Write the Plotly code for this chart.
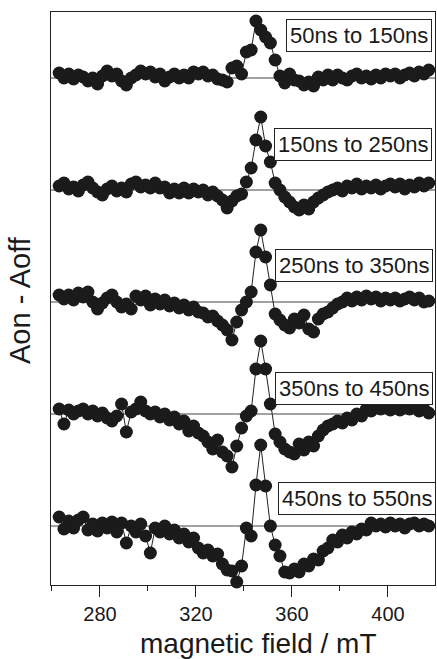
import plotly.graph_objects as go

# magnetic field grid (mT)
field = list(range(263, 419, 2))

labels = ["50ns to 150ns", "150ns to 250ns", "250ns to 350ns",
          "350ns to 450ns", "450ns to 550ns"]

s1 = [5, 0, 4, -1, 3, 1, -3, 0, -6, 2,
      7, 2, 4, -3, -7, 0, 3, 7, 4, 6,
      1, 4, -3, 1, 4, 0, 3, 0, 6, 4,
      6, 2, 3, -1, -2, -4, 10, 12, 4, 26,
      28, 57, 48, 41, 35, 18, 2, -5, 4, -2,
      -3, -7, -4, -8, 1, -2, 3, -2, 3, 0,
      -2, 2, 4, 0, 2, -1, 3, 0, 4, 2,
      4, 0, 3, 5, 2, 6, 4, 8]
s2 = [4, 7, 1, 3, -1, 5, 8, 2, -2, -5,
      1, 4, -1, 2, -2, 6, 8, 3, 5, 2,
      7, 2, 3, -3, 1, -3, 2, -3, 1, -2,
      0, -5, -2, -6, -10, -18, -11, -6, -4, 8,
      22, 50, 73, 44, 28, 7, 0, -7, -12, -17,
      -20, -15, -19, -12, -8, -5, -2, 0, 2, -1,
      4, 2, 6, 1, 4, 2, 5, 1, 4, 6,
      3, 6, 1, 5, 3, 7, 4, 7]
s3 = [7, 3, 7, 2, 9, 5, 10, 0, -7, -1,
      4, 7, 0, -5, -2, -7, 6, 2, 6, -3,
      3, -2, 2, -4, -1, -6, -3, -8, -5, -10,
      -11, -15, -14, -19, -23, -28, -38, -20, -8, 0,
      10, 50, 72, 45, 17, -12, -18, -23, -26, -17,
      -21, -13, -27, -30, -17, -12, -10, -6, -2, 0,
      4, 1, 5, 2, 6, 3, 5, 1, 4, 2,
      4, 1, 3, 5, 2, 4, 0, 1]
s4 = [5, -10, 4, 0, 3, 5, 0, 3, -2, 1,
      -4, -7, -2, 10, -18, 2, 5, 12, 3, 0,
      2, -3, 0, -6, -3, -10, -7, -17, -12, -19,
      -22, -28, -35, -26, -38, -42, -53, -32, -14, -2,
      3, 45, 73, 45, 10, -20, -28, -35, -38, -40,
      -30, -36, -28, -32, -22, -16, -12, -10, -7, -9,
      -4, -6, 0, -2, 5, 3, 8, 5, 8, 4,
      7, 4, 8, 5, 7, 3, 5, 1]
s5 = [9, -3, 5, -2, 6, 9, -4, 2, -5, 3,
      -2, 4, -6, 3, -17, 0, -6, 2, -10, -27,
      -2, -6, 0, -8, -4, -12, -8, -16, -12, -22,
      -27, -24, -30, -28, -38, -44, -45, -56, -40, -2,
      -10, 41, 81, 40, 0, -19, -30, -46, -47, -43,
      -46, -38, -40, -33, -34, -25, -22, -14, -16, -9,
      -12, -6, -8, -3, -4, 3, 0, 2, -1, 3,
      0, 2, -2, 2, 3, 0, 2, 0]
series = [s1, s2, s3, s4, s5]

# layout-only: vertical stacking offsets and label box placement
offsets = [448, 336, 224, 112, 0]
label_dy = [43, 45.5, 36.5, 26, 27.5]
label_right_px = [432, 432, 433, 433, 436]

L, R, T, B = 51, 2, 12, 74
W, H = 437, 659
pw = W - L - R
FONT = "Liberation Sans, Arial"

fig = go.Figure()
shapes = []
annotations = []
for k, s in enumerate(series):
    shapes.append(dict(type="line", xref="paper", yref="y", x0=0, x1=1,
                       y0=offsets[k], y1=offsets[k],
                       line=dict(color="#444", width=1), layer="below"))
    fig.add_trace(go.Scatter(
        x=field, y=[v + offsets[k] for v in s], mode="lines+markers",
        line=dict(color="#222", width=1),
        marker=dict(size=13, color="#1b1b1b", line=dict(width=0)),
        showlegend=False, cliponaxis=False))
    annotations.append(dict(
        text=labels[k], xref="paper", yref="y",
        x=(label_right_px[k] - L) / pw, y=offsets[k] + label_dy[k],
        xanchor="right", yanchor="middle", showarrow=False,
        font=dict(family=FONT, size=22, color="#1a1a1a"),
        bgcolor="white", bordercolor="#222", borderwidth=1, borderpad=3))

annotations.append(dict(text="magnetic field / mT", xref="paper", yref="paper",
                        x=(258 - L) / pw, y=(H - B - 643) / (H - T - B),
                        xanchor="center", yanchor="middle", showarrow=False,
                        font=dict(family=FONT, size=28, color="#1a1a1a")))
annotations.append(dict(text="Aon - Aoff", xref="paper", yref="paper",
                        x=(20 - L) / pw, y=(H - B - 300) / (H - T - B),
                        xanchor="center", yanchor="middle", showarrow=False, textangle=-90,
                        font=dict(family=FONT, size=29, color="#1a1a1a")))

fig.update_layout(
    width=W, height=H, margin=dict(l=L, r=R, t=T, b=B),
    paper_bgcolor="white", plot_bgcolor="white",
    shapes=shapes, annotations=annotations,
    xaxis=dict(range=[259.6, 419.6], showgrid=False, zeroline=False,
               showline=True, mirror=True, linecolor="#222", linewidth=1,
               ticks="outside", ticklen=11, tickcolor="#222", tickwidth=1,
               dtick=40, tick0=0,
               minor=dict(ticks="outside", ticklen=5, dtick=20, tick0=0, tickcolor="#222"),
               tickfont=dict(family=FONT, size=20, color="#1a1a1a")),
    yaxis=dict(range=[-59, 514], showgrid=False, zeroline=False,
               showline=True, mirror=True, linecolor="#222", linewidth=1,
               showticklabels=False, ticks=""),
)
fig.write_html("out.html")
